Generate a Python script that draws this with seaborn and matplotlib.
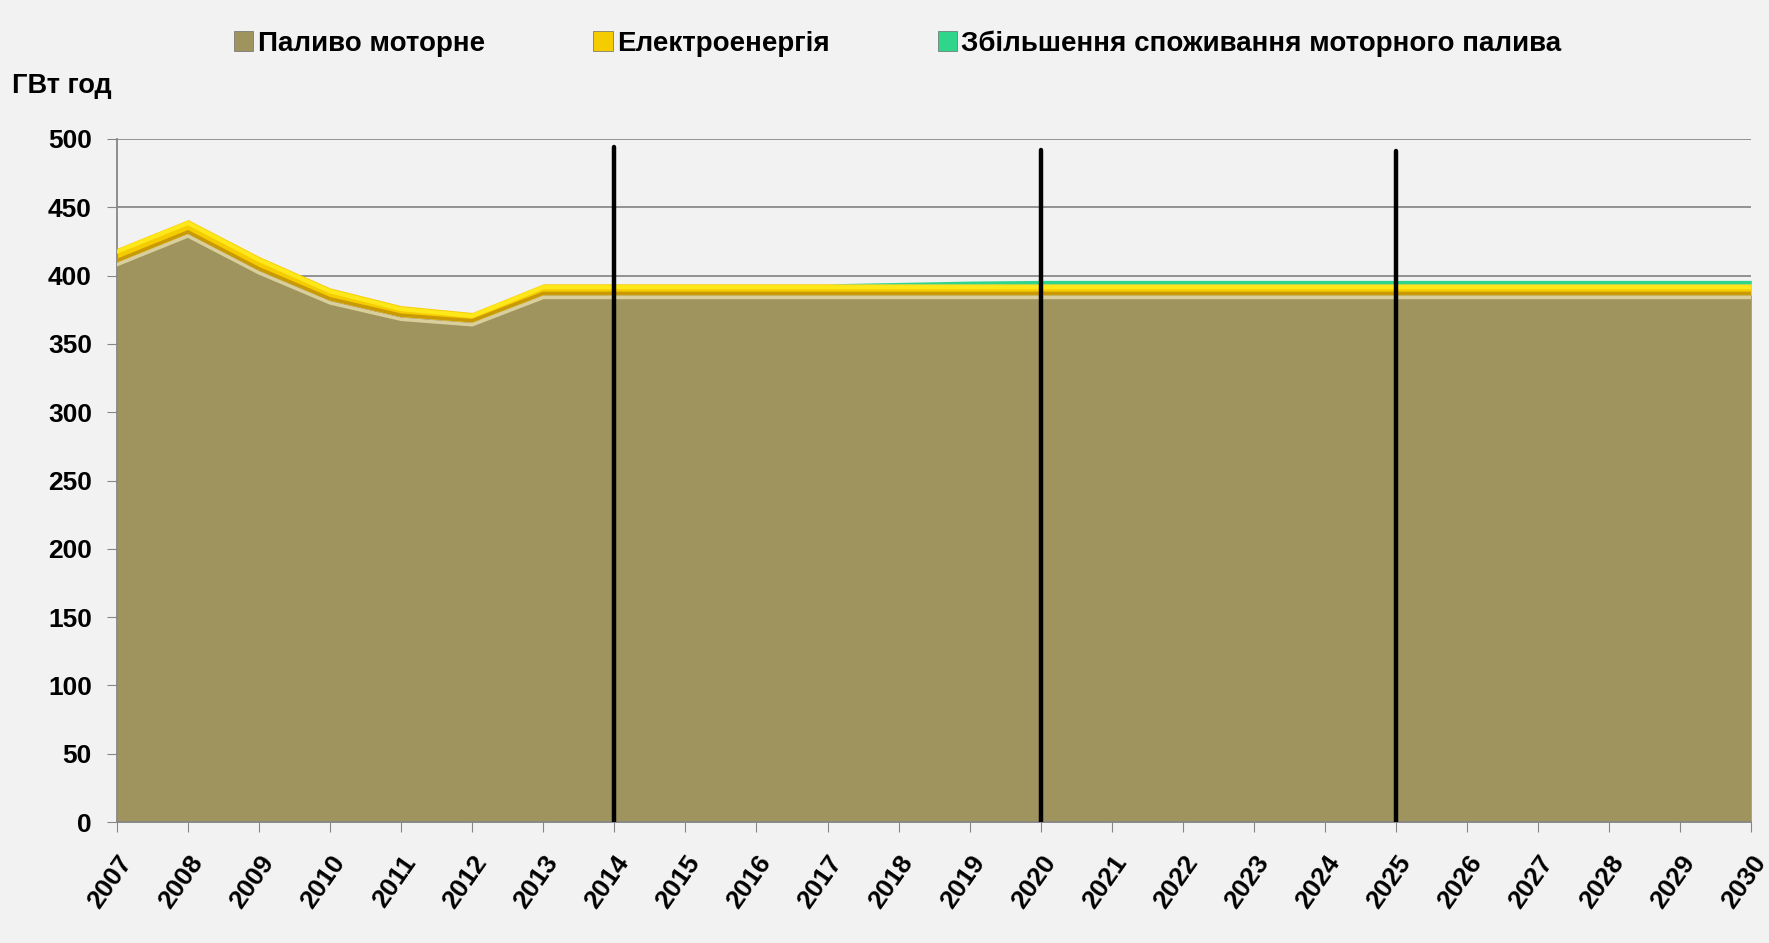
import matplotlib.pyplot as plt
import seaborn as sns
import numpy as np
from matplotlib.patches import Patch

years = list(range(2007, 2031))
# ГВт год
motor_fuel = [410, 431, 404, 382, 370, 366, 386, 386, 386, 386, 386, 386,
              386, 386, 386, 386, 386, 386, 386, 386, 386, 386, 386, 386]
electricity = [10, 10, 10, 9, 8, 7, 8, 8, 8, 8, 8, 8,
               8, 8, 8, 8, 8, 8, 8, 8, 8, 8, 8, 8]
fuel_increase = [0, 0, 0, 0, 0, 0, 0, 0, 0, 0, 0, 1,
                 2, 2.5, 2.5, 2.5, 2.5, 2.5, 2.5, 2.5, 2.5, 2.5, 2.5, 2.5]
marker_years = [2014, 2020, 2025]
marker_tops = [494, 492, 491]

labels = ["Паливо моторне", "Електроенергія", "Збільшення споживання моторного палива"]
colors = ["#9f935e", "#f5cc00", "#2fd58a"]

sns.set_style("white")
plt.rcParams['font.family'] = ['Liberation Sans', 'DejaVu Sans']
plt.rcParams['font.weight'] = 'bold'
plt.rcParams['text.color'] = 'black'
plt.rcParams['xtick.color'] = 'black'
plt.rcParams['ytick.color'] = 'black'

bg = "#f2f2f2"
fig = plt.figure(figsize=(17.69, 9.43), dpi=100, facecolor=bg)
ax = fig.add_axes([0.0661, 0.1283, 0.9239, 0.7243], facecolor=bg)

x = np.array(years)
ax.stackplot(x, motor_fuel, electricity, fuel_increase, colors=colors, linewidth=0, zorder=2)

# light rim on top of the fuel area and dark rim on the electricity band
fuel = np.array(motor_fuel)
elec_top = fuel + np.array(electricity)
sns.lineplot(x=x, y=fuel - 2, color="#d9cf9c", lw=2.5, ax=ax, zorder=3)
sns.lineplot(x=x, y=fuel + 1, color="#c99a05", lw=2.5, ax=ax, zorder=3)
sns.lineplot(x=x, y=elec_top - 2.5, color="#ffe81a", lw=3, ax=ax, zorder=3)

for yr, top in zip(marker_years, marker_tops):
    ax.plot([yr, yr], [0, top], color="black", lw=3.2, zorder=4)

ax.set_xlim(2007, 2030)
ax.set_ylim(0, 500)
ax.set_yticks(range(0, 501, 50))
ax.set_xticks(years)
ax.set_xticklabels([str(y) for y in years], rotation=55, ha="right",
                   rotation_mode="anchor", fontsize=19, fontweight="bold")
ax.tick_params(axis="y", labelsize=19, length=7, color="#868686", labelcolor="black", pad=11)
ax.tick_params(axis="x", length=7, color="#868686", labelcolor="black", pad=14, direction="out")
ax.tick_params(axis="both", which="both", bottom=True, left=True)
for lab in ax.get_yticklabels():
    lab.set_fontweight("bold")
ax.grid(axis="y", color="#8a8a8a", lw=1.3, zorder=1)
ax.grid(axis="x", visible=False)
for s in ["top", "right"]:
    ax.spines[s].set_visible(False)
for s in ["left", "bottom"]:
    ax.spines[s].set_color("#868686")
    ax.spines[s].set_linewidth(1.3)
ax.set_ylabel("")
ax.set_xlabel("")

fig.text(0.007, 0.909, "ГВт год", fontsize=19.5, fontweight="bold", va="center")

handles = [Patch(facecolor=c, edgecolor="#6b6b6b", lw=0.5) for c in colors]
fig.legend(handles, labels, loc="center left", bbox_to_anchor=(0.126, 0.954),
           ncol=3, frameon=False, fontsize=20, handlelength=0.7, handleheight=0.7,
           handletextpad=0.15, columnspacing=3.9, borderaxespad=0)

fig.savefig("out.png", dpi=100, facecolor=bg)
